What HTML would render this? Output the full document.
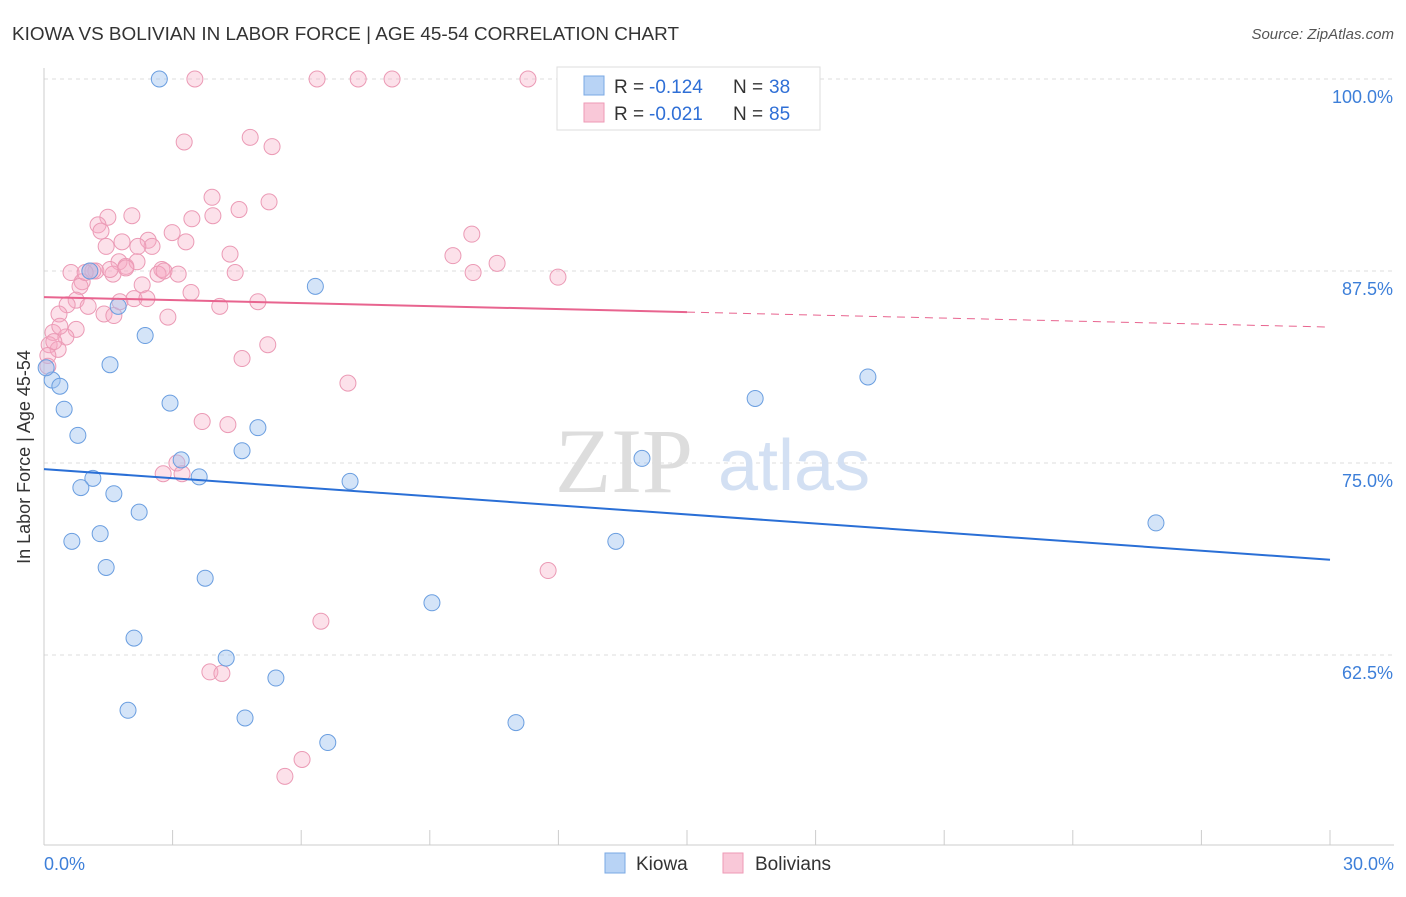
<!DOCTYPE html>
<html><head><meta charset="utf-8"><style>
body{margin:0;background:#fff;font-family:"Liberation Sans",sans-serif;}
</style></head><body>
<svg width="1406" height="892" xmlns="http://www.w3.org/2000/svg">
<text x="12" y="40" font-size="18" fill="#333" textLength="667" lengthAdjust="spacingAndGlyphs">KIOWA VS BOLIVIAN IN LABOR FORCE | AGE 45-54 CORRELATION CHART</text>
<text x="1394" y="39" font-size="15" fill="#555" font-style="italic" text-anchor="end">Source: ZipAtlas.com</text>
<g id="grid"></g>
<text x="555" y="492" font-size="92" fill="#ddd" font-family="Liberation Serif,serif">ZIP</text>
<text x="718" y="490" font-size="72" fill="#d3e0f3">atlas</text>
<g id="pts"></g>
<g id="lines"></g>
<text x="30" y="457" font-size="18" fill="#333" transform="rotate(-90 30 457)" text-anchor="middle">In Labor Force | Age 45-54</text>
<g>
<rect x="557" y="67" width="263" height="63" fill="#fff" stroke="#ddd"/>
<rect x="584" y="76" width="20" height="19" fill="#b8d3f5" stroke="#7aa8e4"/>
<rect x="584" y="103" width="20" height="19" fill="#f9c8d8" stroke="#ee9ab6"/>
<text x="614" y="93" font-size="19" fill="#333">R =</text>
<text x="649" y="93" font-size="19" fill="#2f6fd6">-0.124</text>
<text x="733" y="93" font-size="19" fill="#333">N =</text>
<text x="769" y="93" font-size="19" fill="#2f6fd6">38</text>
<text x="614" y="120" font-size="19" fill="#333">R =</text>
<text x="649" y="120" font-size="19" fill="#2f6fd6">-0.021</text>
<text x="733" y="120" font-size="19" fill="#333">N =</text>
<text x="769" y="120" font-size="19" fill="#2f6fd6">85</text>
</g>
<g>
<rect x="605" y="853" width="20" height="20" fill="#b8d3f5" stroke="#7aa8e4"/>
<text x="636" y="870" font-size="19" fill="#333">Kiowa</text>
<rect x="723" y="853" width="20" height="20" fill="#f9c8d8" stroke="#ee9ab6"/>
<text x="755" y="870" font-size="19" fill="#333">Bolivians</text>
</g>
</svg>
<script>
const yTicks=[100,87.5,75,62.5];
const yTickLabels=["100.0%","87.5%","75.0%","62.5%"];
const xTickLabels=["0.0%","30.0%"];
const kiowaX=[2.69,6.33,1.73,2.36,1.54,0.19,0.37,0.47,2.94,0.79,4.99,4.62,3.20,1.14,3.62,0.86,1.63,7.14,2.22,0.65,1.31,1.45,3.76,2.10,4.25,5.41,1.96,4.69,6.62,9.05,11.01,13.34,13.95,16.59,19.22,25.94,1.07,0.05];
const kiowaY=[100,86.5,85.2,83.3,81.4,80.4,80.0,78.5,78.9,76.8,77.3,75.8,75.2,74.0,74.1,73.4,73.0,73.8,71.8,69.9,70.4,68.2,67.5,63.6,62.3,61.0,58.9,58.4,56.8,65.9,58.1,69.9,75.3,79.2,80.6,71.1,87.5,81.2];
const bolX=[3.52,6.37,7.33,8.12,11.29,4.81,3.27,5.32,3.92,5.25,4.55,1.49,2.05,3.94,3.45,1.26,2.99,1.33,9.98,1.82,2.43,3.31,1.45,2.52,2.19,4.34,9.54,10.57,1.75,1.91,2.17,2.75,0.63,1.07,1.21,1.61,2.66,2.80,4.46,10.01,11.99,0.89,0.84,2.29,3.43,2.10,2.40,0.75,0.54,4.99,4.10,1.03,0.35,1.40,1.63,2.89,0.75,0.21,0.51,0.12,0.33,5.22,0.09,0.09,4.62,7.09,3.69,4.29,3.10,2.78,3.22,11.76,6.46,3.87,4.15,6.02,5.62,0.23,1.91,1.54,1.14,0.96,1.77,0.37,3.13];
const bolY=[100,100,100,100,100,96.2,95.9,95.6,92.3,92.0,91.5,91.0,91.1,91.1,90.9,90.5,90.0,90.1,89.9,89.4,89.5,89.4,89.1,89.1,89.1,88.6,88.5,88.0,88.1,87.8,88.1,87.6,87.4,87.5,87.5,87.3,87.3,87.5,87.4,87.4,87.1,86.8,86.5,86.6,86.1,85.7,85.7,85.6,85.3,85.5,85.2,85.2,84.7,84.7,84.6,84.5,83.7,83.5,83.2,82.7,82.4,82.7,82.0,81.3,81.8,80.2,77.7,77.5,75.0,74.3,74.3,68.0,64.7,61.4,61.3,55.7,54.6,82.9,87.7,87.6,87.5,87.4,85.5,83.9,87.3];
const kiowaTrend=[74.6,68.7];
const bolTrend=[85.8,83.85];
const X0=44,X1=1330,Y100=79,PX=15.36;
const xs=v=>X0+(v/30)*(X1-X0);
const ys=v=>Y100+(100-v)*PX;
const NS="http://www.w3.org/2000/svg";
function mk(t,a,p){const e=document.createElementNS(NS,t);for(const k in a)e.setAttribute(k,a[k]);p.appendChild(e);return e;}
const g=document.getElementById('grid');
yTicks.forEach((t,i)=>{
 const l=mk('line',{x1:X0,x2:1394,y1:ys(t),y2:ys(t),stroke:'#ddd','stroke-dasharray':'4,4'},g);
 
 
 const tx=mk('text',{x:1393,y:ys(t)+24,'font-size':18,fill:'#3d7fd9','text-anchor':'end'},g);
 tx.textContent=yTickLabels[i];
 
 
});
mk('line',{x1:X0,x2:X0,y1:68,y2:845,stroke:'#ccc'},g);
mk('line',{x1:X0,x2:1394,y1:845,y2:845,stroke:'#ccc'},g);
for(let i=0;i<=10;i++){const l=mk('line',{x1:xs(i*3),x2:xs(i*3),y1:830,y2:845,stroke:'#ccc'},g);
 
 }
[[0,'start',44],[1,'end',1394]].forEach(([i,a,x])=>{const t=mk('text',{x:x,y:870,'font-size':18,fill:'#3d7fd9','text-anchor':a},g);t.textContent=xTickLabels[i];
 
 });
const p=document.getElementById('pts');
bolX.forEach((x,i)=>{const c=mk('circle',{cx:xs(x),cy:ys(bolY[i]),r:8,fill:'rgba(245,170,195,0.35)',stroke:'#eb9ab5','stroke-width':1},p);
 
 });
kiowaX.forEach((x,i)=>{const c=mk('circle',{cx:xs(x),cy:ys(kiowaY[i]),r:8,fill:'rgba(160,195,240,0.45)',stroke:'#6a9ee0','stroke-width':1},p);
 
 });
const L=document.getElementById('lines');
const bl=mk('line',{x1:xs(0),y1:ys(kiowaTrend[0]),x2:xs(30),y2:ys(kiowaTrend[1]),stroke:'#2a6fd6','stroke-width':2},L);


const mid=bolTrend[0]+(bolTrend[1]-bolTrend[0])*0.5;
const pl=mk('line',{x1:xs(0),y1:ys(bolTrend[0]),x2:xs(15),y2:ys(mid),stroke:'#e8648f','stroke-width':2},L);


const pd=mk('line',{x1:xs(15),y1:ys(mid),x2:xs(30),y2:ys(bolTrend[1]),stroke:'#e8648f','stroke-width':1,'stroke-dasharray':'8,6'},L);


</script>
</body></html>
